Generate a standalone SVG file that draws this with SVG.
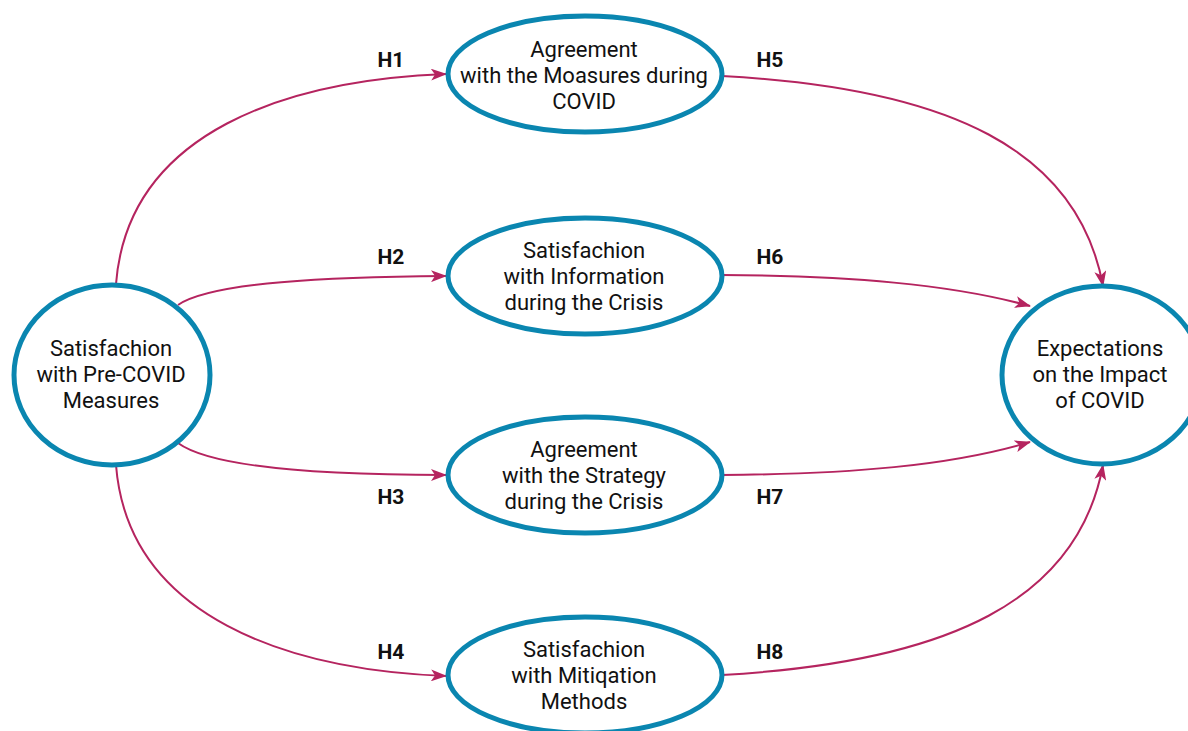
<svg xmlns="http://www.w3.org/2000/svg" width="1188" height="731" viewBox="0 0 1188 731">
  <style>
    .node { fill: #ffffff; stroke: #0a86b0; stroke-width: 5; }
    .label { font-family: Roboto, "Liberation Sans", sans-serif; font-size: 22px; fill: #111111; text-anchor: middle; }
    .hyp { font-family: Roboto, "Liberation Sans", sans-serif; font-size: 21px; font-weight: bold; fill: #111111; text-anchor: middle; }
    .link { fill: none; stroke: #b5245f; stroke-width: 2; marker-end: url(#arrow); }
  </style>
  <defs>
    <marker id="arrow" markerUnits="userSpaceOnUse" markerWidth="16" markerHeight="12" refX="15" refY="6" orient="auto">
      <path d="M0,0 L16,6 L0,12 L4,6 Z" fill="#b5245f"/>
    </marker>
  </defs>
  <rect width="1188" height="731" fill="#ffffff"/>

  <!-- hypothesis paths -->
  <g id="connectors">
    <path class="link" d="M116,284 C128,130 290,80 446,74"/>
    <path class="link" d="M178,305 C212,282 330,277 446,276"/>
    <path class="link" d="M178,443 C212,468 330,475 446,475"/>
    <path class="link" d="M116,465 C128,618 290,670 446,676"/>
    <path class="link" d="M722,76 C950,88 1078,150 1103,286"/>
    <path class="link" d="M722,275 C850,276 950,284 1030,306"/>
    <path class="link" d="M722,475 C850,474 950,466 1030,442"/>
    <path class="link" d="M722,675 C950,662 1078,600 1103,465"/>
    <text class="hyp" x="391" y="67">H1</text>
    <text class="hyp" x="391" y="264">H2</text>
    <text class="hyp" x="391" y="504">H3</text>
    <text class="hyp" x="391" y="659">H4</text>
    <text class="hyp" x="770" y="67">H5</text>
    <text class="hyp" x="770" y="264">H6</text>
    <text class="hyp" x="770" y="504">H7</text>
    <text class="hyp" x="770" y="659">H8</text>
  </g>

  <g id="pre-covid">
    <ellipse class="node" cx="112" cy="375" rx="98" ry="90"/>
    <text class="label" x="111" y="356">Satisfachion</text>
    <text class="label" x="111" y="382">with Pre-COVID</text>
    <text class="label" x="111" y="408">Measures</text>
  </g>

  <g id="measures">
    <ellipse class="node" cx="585" cy="74" rx="137" ry="58"/>
    <text class="label" x="584" y="57">Agreement</text>
    <text class="label" x="584" y="83">with the Moasures during</text>
    <text class="label" x="584" y="109">COVID</text>
  </g>

  <g id="information">
    <ellipse class="node" cx="585" cy="276" rx="137" ry="58"/>
    <text class="label" x="584" y="258">Satisfachion</text>
    <text class="label" x="584" y="284">with Information</text>
    <text class="label" x="584" y="310">during the Crisis</text>
  </g>

  <g id="strategy">
    <ellipse class="node" cx="585" cy="475" rx="137" ry="58"/>
    <text class="label" x="584" y="457">Agreement</text>
    <text class="label" x="584" y="483">with the Strategy</text>
    <text class="label" x="584" y="509">during the Crisis</text>
  </g>

  <g id="mitigation">
    <ellipse class="node" cx="585" cy="675" rx="137" ry="58"/>
    <text class="label" x="584" y="657">Satisfachion</text>
    <text class="label" x="584" y="683">with Mitiqation</text>
    <text class="label" x="584" y="709">Methods</text>
  </g>

  <g id="expectations">
    <ellipse class="node" cx="1102" cy="375" rx="100" ry="89"/>
    <text class="label" x="1100" y="356">Expectations</text>
    <text class="label" x="1100" y="382">on the Impact</text>
    <text class="label" x="1100" y="408">of COVID</text>
  </g>
</svg>
